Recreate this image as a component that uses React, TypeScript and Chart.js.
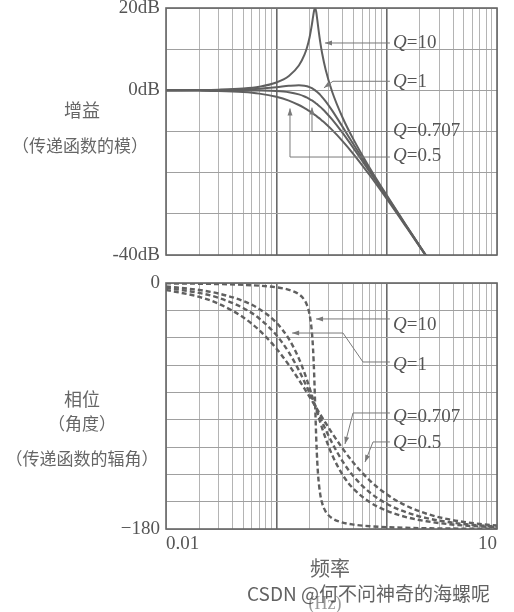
import { useEffect, useRef } from 'react';
import { Chart, registerables, ChartConfiguration, Plugin } from 'chart.js';

Chart.register(...registerables);

// frequency points (shared by both panels)
const freqs = [
  0.01, 0.02, 0.03, 0.05, 0.07, 0.1, 0.13, 0.16, 0.18, 0.19, 0.2, 0.21, 0.215, 0.22, 0.225, 0.23,
  0.235, 0.24, 0.25, 0.26, 0.28, 0.32, 0.4, 0.5, 0.7, 1, 1.5, 2.3, 3.5, 5, 7, 10,
];

// gain (dB)
const gainQ10 = [
  0.02, 0.07, 0.16, 0.44, 0.88, 1.9, 3.5, 6.03, 8.67, 10.48, 12.84, 15.97, 17.78, 19.4, 20.0, 19.04,
  17.18, 15.18, 11.71, 9.0, 5.0, -0.28, -6.72, -11.92, -18.78, -25.46, -32.76, -40.3, -47.6, -53.9, -59.8, -65.9,
];
const gainQ1 = [
  0.01, 0.03, 0.08, 0.21, 0.4, 0.75, 1.09, 1.25, 1.14, 0.99, 0.79, 0.52, 0.36, 0.19, 0, -0.2,
  -0.41, -0.63, -1.1, -1.64, -2.67, -4.87, -8.94, -13.11, -19.29, -25.7, -32.86, -40.34, -47.7, -53.9, -59.8, -65.9,
];
const gainQ0707 = [
  0, 0, 0, -0.01, -0.04, -0.17, -0.46, -0.99, -1.49, -1.79, -2.11, -2.45, -2.63, -2.82, -3.01, -3.21,
  -3.4, -3.61, -4.02, -4.45, -5.31, -7.07, -10.41, -14.05, -19.76, -25.92, -32.96, -40.38, -47.7, -53.9, -59.8, -65.9,
];
const gainQ05 = [
  -0.02, -0.07, -0.15, -0.42, -0.8, -1.57, -2.5, -3.56, -4.31, -4.68, -5.06, -5.44, -5.64, -5.83, -6.02, -6.21,
  -6.41, -6.6, -6.98, -7.37, -8.13, -9.61, -12.38, -15.47, -20.57, -26.34, -33.15, -40.46, -47.7, -53.9, -59.8, -65.9,
];

// phase (degrees)
const phaseQ10 = [
  -0.26, -0.51, -0.78, -1.34, -1.97, -3.17, -4.96, -8.19, -12.53, -16.4, -22.95, -35.91, -47.71, -65.79, -90, -113.73,
  -131.0, -142.26, -154.65, -160.99, -167.22, -172.08, -175.3, -176.77, -177.95, -178.64, -179.12, -179.43, -179.63, -179.74, -179.82, -179.87,
];
const phaseQ1 = [
  -2.55, -5.12, -7.73, -13.16, -19.0, -28.97, -40.94, -55.19, -65.77, -71.24, -76.72, -82.14, -84.8, -87.43, -90, -92.52,
  -94.97, -97.36, -101.92, -106.18, -113.79, -125.72, -140.55, -150.57, -160.28, -166.67, -171.28, -174.36, -176.31, -177.42, -178.16, -178.71,
];
const phaseQ0707 = [
  -3.6, -7.22, -10.87, -18.29, -25.97, -38.07, -50.81, -63.83, -72.35, -76.49, -80.52, -84.42, -86.32, -88.18, -90, -91.78,
  -93.52, -95.22, -98.49, -101.6, -107.31, -116.95, -130.67, -141.41, -153.12, -161.47, -167.76, -172.05, -174.78, -176.35, -177.39, -178.18,
];
const phaseQ05 = [
  -5.09, -10.16, -15.19, -25.06, -34.56, -47.92, -60.04, -70.82, -77.32, -80.36, -83.27, -86.05, -87.4, -88.72, -90, -91.26,
  -92.48, -93.69, -96.02, -98.26, -102.44, -109.78, -121.28, -131.53, -144.36, -154.64, -162.94, -168.83, -172.64, -174.85, -176.32, -177.42,
];

// log grid lines and labelled ticks
const freqGrid = [
  0.01, 0.02, 0.03, 0.04, 0.05, 0.06, 0.07, 0.08, 0.09,
  0.1, 0.2, 0.3, 0.4, 0.5, 0.6, 0.7, 0.8, 0.9,
  1, 2, 3, 4, 5, 6, 7, 8, 9, 10,
];
const majorFreqs = [0.1, 1];
const freqLabels: Record<string, string> = { '0.01': '0.01', '10': '10' };
const gainLabels: Record<string, string> = { '20': '20dB', '0': '0dB', '-40': '-40dB' };
const phaseLabels: Record<string, string> = { '0': '0', '-180': '\u2212180' };

type Note = { q: string; at: [number, number]; path: [number, number][] };

// leader-line callouts, in data coordinates (freq, value); last path point gets the arrowhead
const gainNotes: Note[] = [
  { q: '10', at: [1.14, 11.5], path: [[1.07, 11.5], [0.276, 11.5]] },
  { q: '1', at: [1.14, 2.1], path: [[1.07, 2.2], [0.326, 2.2], [0.27, 0.6]] },
  { q: '0.707', at: [1.14, -9.9], path: [[1.07, -10], [0.2105, -10], [0.2105, -4.2]] },
  { q: '0.5', at: [1.14, -16], path: [[1.07, -16.2], [0.133, -16.2], [0.133, -4.4]] },
];
const phaseNotes: Note[] = [
  { q: '10', at: [1.14, -30.5], path: [[1.07, -26.3], [0.229, -26.3]] },
  { q: '1', at: [1.14, -60], path: [[1.07, -57.8], [0.61, -57.8], [0.402, -36.6], [0.139, -36.6]] },
  { q: '0.707', at: [1.14, -98], path: [[1.07, -95.1], [0.4955, -95.1], [0.419, -117.8]] },
  { q: '0.5', at: [1.14, -117], path: [[1.07, -116.3], [0.752, -116.3], [0.6365, -131]] },
];

const serif = '"Liberation Serif", "DejaVu Serif", serif';
const cjk = '"Noto Sans CJK SC", "Noto Sans", sans-serif';

const notesPlugin = (notes: Note[]): Plugin => ({
  id: 'notes',
  afterDatasetsDraw(chart) {
    const { ctx } = chart;
    const x = chart.scales.x;
    const y = chart.scales.y;
    ctx.save();
    notes.forEach((n) => {
      const pts = n.path.map(([fx, fy]) => [x.getPixelForValue(fx), y.getPixelForValue(fy)]);
      ctx.strokeStyle = '#7a7a7a';
      ctx.fillStyle = '#7a7a7a';
      ctx.lineWidth = 1;
      ctx.beginPath();
      pts.forEach(([px, py], i) => (i ? ctx.lineTo(px, py) : ctx.moveTo(px, py)));
      ctx.stroke();
      const [ax, ay] = pts[pts.length - 1];
      const [bx, by] = pts[pts.length - 2];
      const a = Math.atan2(ay - by, ax - bx);
      ctx.beginPath();
      ctx.moveTo(ax, ay);
      ctx.lineTo(ax - 7 * Math.cos(a) + 2.5 * Math.sin(a), ay - 7 * Math.sin(a) - 2.5 * Math.cos(a));
      ctx.lineTo(ax - 7 * Math.cos(a) - 2.5 * Math.sin(a), ay - 7 * Math.sin(a) + 2.5 * Math.cos(a));
      ctx.closePath();
      ctx.fill();

      const tx = x.getPixelForValue(n.at[0]);
      const ty = y.getPixelForValue(n.at[1]);
      ctx.fillStyle = '#555';
      ctx.textBaseline = 'middle';
      ctx.textAlign = 'left';
      ctx.font = `italic 19px ${serif}`;
      ctx.fillText('Q', tx, ty);
      const w = ctx.measureText('Q').width;
      ctx.font = `19px ${serif}`;
      ctx.fillText('=' + n.q, tx + w, ty);
    });
    ctx.restore();
  },
});

const framePlugin: Plugin = {
  id: 'frame',
  afterDraw(chart) {
    const { ctx, chartArea: a } = chart;
    ctx.save();
    ctx.strokeStyle = '#666';
    ctx.lineWidth = 1.6;
    ctx.strokeRect(a.left, a.top, a.right - a.left, a.bottom - a.top);
    ctx.restore();
  },
};

function series(label: string, values: number[], dashed: boolean) {
  return {
    label,
    data: freqs.map((f, i) => ({ x: f, y: values[i] })),
    borderColor: '#606060',
    borderWidth: dashed ? 2.4 : 2,
    borderDash: dashed ? [5, 3] : [],
    pointRadius: 0,
    cubicInterpolationMode: 'monotone' as const,
    fill: false,
  };
}

function freqAxis(showLabels: boolean) {
  return {
    type: 'logarithmic' as const,
    min: 0.01,
    max: 10,
    afterBuildTicks: (s: any) => {
      s.ticks = freqGrid.map((v) => ({ value: v, major: false }));
    },
    afterFit: (s: any) => {
      s.height = showLabels ? 31 : 0;
      s.paddingLeft = 0;
      s.paddingRight = 0;
    },
    border: { display: false },
    grid: {
      drawTicks: false,
      color: (c: any) => (majorFreqs.includes(c.tick?.value) ? '#6a6a6a' : '#b4b4b4'),
      lineWidth: (c: any) => (majorFreqs.includes(c.tick?.value) ? 1.6 : 1),
    },
    ticks: {
      display: showLabels,
      autoSkip: false,
      maxRotation: 0,
      align: 'inner' as const,
      padding: 4,
      color: '#555',
      font: { family: serif, size: 19 },
      callback: (v: any) => freqLabels[String(v)] ?? '',
    },
  };
}

function valueAxis(min: number, max: number, step: number, labels: Record<string, string>) {
  return {
    min,
    max,
    afterFit: (s: any) => {
      s.width = 166;
      s.paddingTop = 0;
      s.paddingBottom = 0;
    },
    border: { display: false },
    grid: { drawTicks: false, color: '#a0a0a0', lineWidth: 1 },
    ticks: {
      stepSize: step,
      padding: 6,
      autoSkip: false,
      color: '#555',
      font: { family: serif, size: 19 },
      callback: (v: any) => labels[String(v)] ?? '',
    },
  };
}

const gainConfig = (): ChartConfiguration<'line'> => ({
  type: 'line',
  data: {
    datasets: [
      series('Q=10', gainQ10, false),
      series('Q=1', gainQ1, false),
      series('Q=0.707', gainQ0707, false),
      series('Q=0.5', gainQ05, false),
    ],
  },
  options: {
    animation: false,
    responsive: false,
    events: [],
    layout: { padding: { top: 8, right: 17, bottom: 15, left: 0 } },
    plugins: { legend: { display: false }, tooltip: { enabled: false } },
    scales: { x: freqAxis(false), y: valueAxis(-40, 20, 10, gainLabels) } as any,
  },
  plugins: [framePlugin, notesPlugin(gainNotes)],
});

const phaseConfig = (): ChartConfiguration<'line'> => ({
  type: 'line',
  data: {
    datasets: [
      series('Q=10', phaseQ10, true),
      series('Q=1', phaseQ1, true),
      series('Q=0.707', phaseQ0707, true),
      series('Q=0.5', phaseQ05, true),
    ],
  },
  options: {
    animation: false,
    responsive: false,
    events: [],
    layout: { padding: { top: 13, right: 17, bottom: 0, left: 0 } },
    plugins: { legend: { display: false }, tooltip: { enabled: false } },
    scales: { x: freqAxis(true), y: valueAxis(-180, 0, 20, phaseLabels) } as any,
  },
  plugins: [framePlugin, notesPlugin(phaseNotes)],
});

function Panel({ make, top, height }: { make: () => ChartConfiguration<'line'>; top: number; height: number }) {
  const ref = useRef<HTMLCanvasElement>(null);
  useEffect(() => {
    if (!ref.current) return;
    const chart = new Chart(ref.current, make());
    return () => chart.destroy();
  }, [make]);
  return (
    <canvas
      ref={ref}
      width={514}
      height={height}
      style={{ position: 'absolute', left: 0, top, width: 514, height }}
    />
  );
}

const label = (text: string, cx: number, cy: number, size: number, color = '#666', font = cjk) => (
  <div
    style={{
      position: 'absolute',
      left: cx - 100,
      top: cy - size * 0.7,
      width: 200,
      textAlign: 'center',
      fontFamily: font,
      fontSize: size,
      lineHeight: `${size * 1.4}px`,
      color,
      whiteSpace: 'nowrap',
    }}
  >
    {text}
  </div>
);

export default function App() {
  return (
    <div style={{ position: 'absolute', left: 0, top: 0, width: 514, height: 612, background: '#fff', overflow: 'hidden' }}>
      <Panel make={gainConfig} top={0} height={270} />
      <Panel make={phaseConfig} top={270} height={290} />
      {label('增益', 82, 110, 18)}
      {label('（传递函数的模）', 80, 145, 17)}
      {label('相位', 82, 399, 18)}
      {label('（角度）', 82, 423, 17)}
      {label('（传递函数的辐角）', 82, 458, 17)}
      {label('频率', 330, 568, 20)}
      {label('(Hz)', 325, 604, 18, '#999', serif)}
      <div
        style={{
          position: 'absolute',
          left: 247,
          top: 580,
          fontFamily: cjk,
          fontSize: 19,
          lineHeight: '26px',
          color: 'rgba(70,70,70,0.85)',
          whiteSpace: 'nowrap',
        }}
      >
        CSDN @何不问神奇的海螺呢
      </div>
    </div>
  );
}
